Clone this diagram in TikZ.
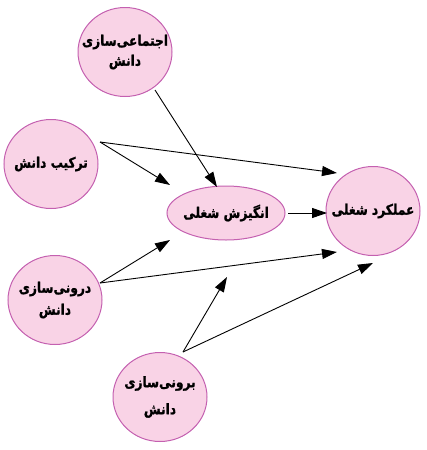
\documentclass[tikz,border=0pt]{standalone}
\usepackage{fontspec}
\usetikzlibrary{shapes.geometric,arrows.meta}
\TeXXeTstate=1
\newfontfamily\arabicfont[Script=Arabic,FakeStretch=0.84,FakeBold=1.2]{DejaVu Sans Bold}
\definecolor{nodefill}{RGB}{249,211,230}
\definecolor{nodeline}{RGB}{196,96,176}
\begin{document}
\begin{tikzpicture}[x=1pt,y=-1pt,
  bubble/.style={ellipse,draw=nodeline,fill=nodefill,line width=1pt,
    minimum width=94pt,minimum height=89pt,inner sep=0pt},
  txt/.style={align=center,inner sep=0pt,
    font=\arabicfont\fontsize{14.5}{20}\selectfont},
  arr/.style={line width=0.9pt,-{Triangle[length=15pt,width=10pt]}}]
\useasboundingbox (0,0) rectangle (427,450);
\node[bubble,label={[txt]center:{\beginR اجتماعی‌سازی\endR\\\beginR دانش\endR}}] (A) at (125,52) {};
\node[bubble,label={[txt]center:{\beginR ترکیب دانش\endR}}] (B) at (51,164) {};
\node[bubble,minimum width=118pt,minimum height=54pt,label={[txt]center:{\beginR انگیزش شغلی\endR}}] (C) at (226,213) {};
\node[bubble,label={[txt]center:{\beginR عملکرد شغلی\endR}}] (D) at (373,211) {};
\node[bubble,label={[txt,font=\arabicfont\fontsize{14.5}{22}\selectfont]center:{\beginR درونی‌سازی\endR\\\beginR دانش\endR}}] (E) at (55,300) {};
\node[bubble,label={[txt,font=\arabicfont\fontsize{14.5}{27}\selectfont]center:{\beginR برونی‌سازی\endR\\\beginR دانش\endR}}] (F) at (160,397) {};
% connector end points
\coordinate (aOut) at (155,90);
\coordinate (bOut) at (100,142);
\coordinate (eOut) at (100,283);
\coordinate (fOut) at (183,352);
\coordinate (cInA) at (217,187);
\coordinate (cInB) at (170,185);
\coordinate (cInE) at (170,240);
\coordinate (cInF) at (227,277);
\coordinate (dInB) at (337,173);
\coordinate (dInE) at (337,252);
\coordinate (dInF) at (373,263);
\coordinate (cOut) at (288,213);
\coordinate (dInC) at (327,213);
\draw[arr] (aOut) -- (cInA);
\draw[arr] (bOut) -- (cInB);
\draw[arr] (bOut) -- (dInB);
\draw[arr] (cOut) -- (dInC);
\draw[arr] (eOut) -- (cInE);
\draw[arr] (eOut) -- (dInE);
\draw[arr] (fOut) -- (cInF);
\draw[arr] (fOut) -- (dInF);
\end{tikzpicture}
\end{document}
